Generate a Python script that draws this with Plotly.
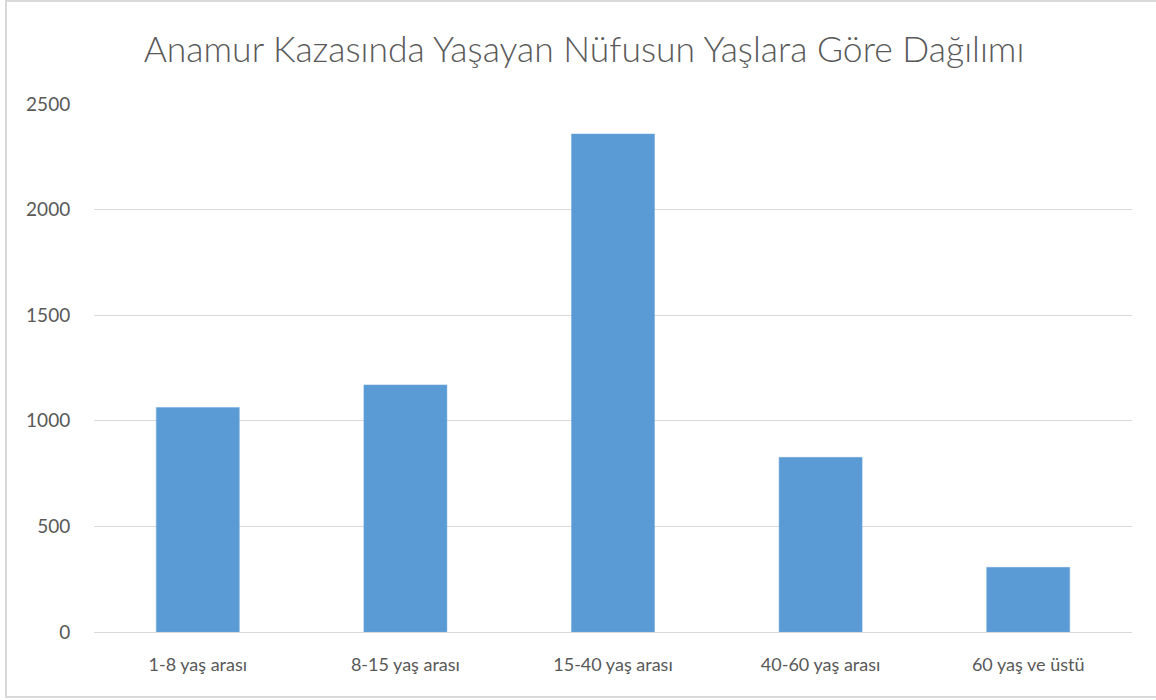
import plotly.graph_objects as go

categories = ["1-8 yaş arası", "8-15 yaş arası", "15-40 yaş arası", "40-60 yaş arası", "60 yaş ve üstü"]
values = [1063, 1170, 2358, 827, 306]
title_text = "Anamur Kazasında Yaşayan Nüfusun Yaşlara Göre Dağılımı"

W, H = 1156, 700
ml, mr, mt, mb = 94, 24, 104, 68
pw, ph = W - ml - mr, H - mt - mb

def px_to_paper_x(x):
    return (x - ml) / pw

def px_to_paper_y(y):
    return (H - mb - y) / ph

fig = go.Figure(go.Bar(
    x=categories, y=values,
    marker=dict(color="#5B9BD5", line=dict(color="#6FA8DC", width=0.5)),
    width=0.4,
))

font_family = "Lato, 'Open Sans', sans-serif"
fig.update_layout(
    width=W, height=H,
    margin=dict(l=ml, r=mr, t=mt, b=mb),
    paper_bgcolor="white", plot_bgcolor="white",
    title=dict(text=title_text, x=584 / W, xref="container", xanchor="center",
               y=1 - 50 / H, yanchor="middle",
               font=dict(family=font_family, size=35.5, color="#595959", weight=300)),
    font=dict(family=font_family, color="#595959"),
    showlegend=False,
    bargap=0.6,
    shapes=[dict(type="rect", xref="paper", yref="paper",
                 x0=px_to_paper_x(6), x1=px_to_paper_x(1175),
                 y0=px_to_paper_y(697), y1=px_to_paper_y(1),
                 line=dict(color="#D9D9D9", width=2), layer="below")],
)
fig.update_xaxes(
    showline=True, linecolor="#D9D9D9", linewidth=1,
    ticks="outside", ticklen=16, tickcolor="rgba(0,0,0,0)",
    tickfont=dict(size=18, color="#595959"),
    showgrid=False,
)
fig.update_yaxes(
    range=[0, 2500], dtick=500,
    showgrid=True, gridcolor="#D9D9D9", gridwidth=1,
    zeroline=False,
    ticks="outside", ticklen=19, tickcolor="rgba(0,0,0,0)",
    tickfont=dict(size=19, color="#595959"),
)

fig.write_html("out.html", config={"displayModeBar": False},
               post_script="document.body.style.margin='0';document.body.style.overflow='hidden';")
